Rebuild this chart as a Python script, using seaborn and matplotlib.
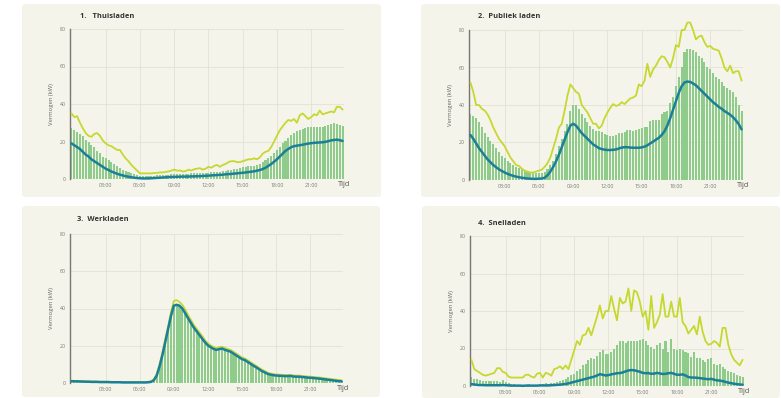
import numpy as np
import pandas as pd
import matplotlib
matplotlib.use("Agg")
import matplotlib.pyplot as plt
from matplotlib.patches import FancyBboxPatch
import seaborn as sns

# Charging power per quarter hour (kW), 96 slots from 00:00 to 23:45
titles = ["1.   Thuisladen", "2.  Publiek laden", "3.  Werkladen", "4.  Snelladen"]
hour_ticks = ["03:00", "06:00", "09:00", "12:00", "15:00", "18:00", "21:00"]

thuis_bar = [
    27, 26, 25, 24,  23, 21, 20, 18,  17, 15, 14, 12,  11, 10, 9, 8,
    7, 6, 5, 4.5,  4, 3, 2.5, 2,  1.5, 1.5, 1.5, 1.5,  1.5, 1.8, 2, 2,
    2, 2.2, 2.4, 2.5,  2.5, 2.6, 2.7, 2.8,  2.8, 2.9, 3, 3,  3, 3.1, 3.2, 3.3,
    3.4, 3.5, 3.6, 3.8,  4, 4.2, 4.5, 4.8,  5, 5.3, 5.6, 6,  6.3, 6.5, 6.8, 7,
    7.2, 7.5, 8, 9,  10, 11, 12.5, 14,  15.5, 17, 19, 20.5,  22, 23.5, 24.5, 25.5,
    26, 26.5, 27, 27.5,  28, 28, 28, 27.5,  28, 28.5, 29, 29.5,  30, 29.5, 29, 28.5,
]
thuis_mean = [
    19, 18, 17, 16,  14.5, 13, 12, 10.5,  9.5, 8.5, 7.5, 6.5,  5.5, 4.8, 4, 3.4,
    2.8, 2.3, 1.9, 1.5,  1.2, 0.9, 0.7, 0.5,  0.4, 0.3, 0.3, 0.3,  0.4, 0.5, 0.6, 0.7,
    0.8, 0.9, 1.0, 1.1,  1.1, 1.2, 1.2, 1.3,  1.3, 1.3, 1.4, 1.4,  1.5, 1.5, 1.6, 1.7,
    1.8, 1.9, 2.0, 2.1,  2.2, 2.3, 2.5, 2.6,  2.7, 2.9, 3.0, 3.2,  3.3, 3.5, 3.7, 3.9,
    4.1, 4.4, 4.8, 5.3,  6, 7, 8, 9.2,  10.5, 12, 13.5, 15,  16, 17, 17.5, 17.8,
    18, 18.3, 18.6, 18.9,  19.1, 19.3, 19.4, 19.5,  19.6, 19.8, 20.2, 20.6,  20.8, 21, 20.7, 20.3,
]
thuis_max = [
    35, 33, 33.5, 30,  27, 24.5, 23, 22.5,  24, 24.5, 23, 20.5,  19, 18, 17.5, 16.5,
    15.5, 15.5, 13, 11,  9.5, 7.5, 6, 4.5,  3, 3, 3, 3,  3, 3.2, 3.3, 3.5,
    3.5, 3.8, 4, 4.5,  5, 4.5, 4.5, 4,  4.2, 5, 4.5, 5.2,  5.5, 5.8, 5, 5.5,
    6.5, 6, 7, 7.5,  6.5, 7.5, 8, 9,  9.5, 9.5, 9, 9,  9.5, 10, 10.5, 10.5,
    11, 10.5, 11.5, 13.5,  14.5, 15, 17, 20,  23, 26, 28, 30,  31.5, 31, 32, 30,
    34, 35, 33.5, 32,  33, 34.5, 34, 36.5,  34.5, 35, 35.5, 36,  35.5, 38.5, 38.5, 37,
]

publiek_bar = [
    35, 34, 33, 31,  28, 25, 23, 21,  19, 17, 15, 13,  11.5, 10, 9, 8,
    7, 6.5, 6, 5,  4.5, 4, 3.5, 3.5,  3.5, 3.5, 4, 6,  8, 10, 14, 18,
    22, 26, 30, 37,  40, 40, 38, 35,  33, 31, 29, 27,  26, 26, 25.5, 24.5,
    24, 23.5, 23.5, 24,  25, 25, 25.5, 26.5,  26.5, 26, 26.5, 27,  27.5, 28, 28, 31.5,
    32, 32, 32, 35,  36, 37, 41, 44,  50, 55, 60, 68,  70, 70, 69.5, 68,
    66, 65, 63, 60,  59, 57, 55, 54,  52, 50, 49, 48,  47, 44, 40, 37,
]
publiek_mean = [
    24, 22, 19.5, 17,  15, 13, 11, 9.5,  8, 6.8, 5.7, 4.8,  4, 3.3, 2.7, 2.2,
    1.8, 1.5, 1.2, 1.0,  0.8, 0.7, 0.6, 0.6,  0.7, 0.8, 1.2, 2.5,  4.5, 7, 10, 13.5,
    17.5, 21.5, 25.5, 29,  30, 29, 27, 25,  23.5, 22, 20.5, 19,  18, 17, 16.5, 16.2,
    16, 16, 16.1, 16.3,  16.8, 17.3, 17.5, 17.5,  17.3, 17.2, 17.2, 17.2,  17.4, 17.8, 18.5, 19.5,
    20.5, 21.5, 22.5, 24,  26, 29, 33, 37.5,  42, 46.5, 50, 52,  52.5, 52.3, 51.5, 50.5,
    49, 47.5, 46, 44.5,  43, 41.5, 40.3, 39,  38, 36.8, 35.8, 34.8,  33.5, 31.8, 29.8, 27,
]
publiek_max = [
    52, 47, 40, 40,  38, 37, 35, 32,  28, 25, 22, 20,  18, 15, 12, 10,
    8, 7.5, 6, 5,  4.5, 4, 4, 4.5,  5, 5.5, 7, 9,  12, 17, 22, 28,
    30, 37, 45, 51,  49, 47, 46, 40,  38, 36, 33, 30,  30, 27.5, 29, 33,
    36, 38.5, 40.5, 39.5,  40, 41.5, 40.5, 42,  43.5, 44, 45, 51,  50, 53, 62, 55,
    59, 61, 64, 66,  65.5, 63, 60, 65,  72, 71, 80, 80,  84, 84, 80, 75,
    76.5, 77, 73.5, 71,  71.5, 70, 69.5, 69,  65, 60, 58, 61,  57, 58, 58, 53,
]

werk_bar = [
    1.0, 0.9, 0.9, 0.8,  0.8, 0.7, 0.7, 0.6,  0.6, 0.6, 0.5, 0.5,  0.5, 0.5, 0.4, 0.4,
    0.4, 0.4, 0.3, 0.3,  0.3, 0.3, 0.3, 0.3,  0.3, 0.3, 0.3, 0.4,  0.6, 1.5, 4, 9,
    15, 22, 29, 36,  42, 42.5, 42, 40.5,  38, 35, 32.5, 30,  28, 26, 24, 22,
    20.5, 19.5, 18.5, 18,  18.5, 18.8, 18, 17.5,  17, 16, 15, 14,  13, 12.5, 11.5, 10.5,
    9.5, 8.5, 7.5, 6.5,  5.8, 5, 4.6, 4.3,  4.1, 4, 3.9, 3.8,  3.8, 3.9, 3.6, 3.5,
    3.5, 3.3, 3.2, 3.0,  2.9, 2.8, 2.6, 2.5,  2.3, 2.1, 1.9, 1.7,  1.5, 1.3, 1.1, 1.0,
]
werk_mean = [
    1.0, 0.9, 0.9, 0.8,  0.8, 0.7, 0.7, 0.6,  0.6, 0.6, 0.5, 0.5,  0.5, 0.5, 0.4, 0.4,
    0.4, 0.4, 0.3, 0.3,  0.3, 0.3, 0.3, 0.3,  0.3, 0.3, 0.3, 0.4,  0.6, 1.5, 4, 9,
    15, 22, 29, 36,  41.5, 42, 41.5, 40,  37.5, 34.8, 32.3, 29.8,  27.8, 25.8, 23.8, 21.8,
    20.2, 19.2, 18.3, 17.8,  18.2, 18.5, 17.8, 17.3,  16.8, 15.8, 14.8, 13.8,  12.8, 12.3, 11.3, 10.3,
    9.3, 8.4, 7.4, 6.4,  5.7, 4.9, 4.5, 4.2,  4.0, 3.9, 3.8, 3.7,  3.7, 3.8, 3.5, 3.4,
    3.4, 3.2, 3.1, 2.9,  2.8, 2.7, 2.5, 2.4,  2.2, 2.0, 1.8, 1.6,  1.4, 1.2, 1.0, 0.9,
]
werk_max = [
    1.2, 1.1, 1.1, 1.0,  1.0, 0.9, 0.9, 0.8,  0.8, 0.8, 0.7, 0.7,  0.7, 0.7, 0.6, 0.6,
    0.6, 0.6, 0.5, 0.5,  0.5, 0.5, 0.5, 0.5,  0.5, 0.5, 0.5, 0.6,  0.9, 2, 4.8, 10,
    16.5, 23.5, 30.5, 38,  44, 44.5, 43.5, 42,  39.5, 36.5, 34, 31.3,  29.2, 27.2, 25.2, 23,
    21.3, 20.2, 19.3, 18.8,  19.2, 19.5, 18.8, 18.2,  17.8, 16.8, 15.8, 14.7,  13.7, 13.2, 12.2, 11.2,
    10.2, 9.2, 8.2, 7.2,  6.4, 5.6, 5.1, 4.8,  4.6, 4.5, 4.4, 4.3,  4.3, 4.4, 4.1, 4.0,
    4.0, 3.8, 3.7, 3.5,  3.4, 3.3, 3.1, 3.0,  2.8, 2.6, 2.4, 2.2,  2.0, 1.8, 1.6, 1.5,
]

snel_bar = [
    5, 4, 3.5, 3,  2.5, 2.5, 2.5, 2.5,  2.5, 2.5, 2, 3,  2, 1.5, 1, 1,
    0.8, 0.8, 0.5, 0.8,  1, 0.8, 0.8, 0.8,  1.2, 1, 1.5, 1.2,  1.5, 1.8, 2, 2.5,
    3, 4, 5, 6,  6.5, 8, 9, 11,  12, 14, 15, 14.5,  16, 18, 19, 17,
    17, 18, 20, 22,  24, 24, 23, 24,  24, 24, 24, 24.5,  25, 24, 22, 21,
    20, 22, 23, 20,  24, 18, 25, 20,  19, 20, 19, 18,  17.5, 15.5, 18, 15,
    15, 14, 13, 14.5,  15, 12, 11, 12,  10, 9, 8, 7.5,  7, 6, 5.5, 5,
]
snel_mean = [
    1, 0.8, 0.6, 0.5,  0.5, 0.4, 0.4, 0.4,  0.4, 0.4, 0.4, 0.5,  0.4, 0.3, 0.2, 0.2,
    0.2, 0.2, 0.1, 0.2,  0.2, 0.2, 0.2, 0.2,  0.3, 0.3, 0.3, 0.3,  0.4, 0.5, 0.6, 0.7,
    0.9, 1.1, 1.4, 1.8,  2.2, 2.6, 3, 3.4,  3.8, 4.2, 4.6, 5,  5.6, 6.3, 6.0, 5.6,
    5.8, 6.2, 6.5, 6.8,  6.9, 7.2, 7.8, 8.3,  8.5, 8.4, 8.0, 7.6,  7.0, 6.8, 6.9, 6.5,
    6.6, 7.0, 6.7, 6.4,  6.5, 6.8, 7.0, 6.5,  6.0, 6.0, 6.2, 5.6,  4.8, 4.5, 4.5, 4.4,
    4.2, 4.0, 3.8, 3.6,  3.8, 3.4, 3.0, 2.9,  2.6, 2.2, 1.8, 1.5,  1.2, 1.0, 0.8, 0.7,
]
snel_max = [
    14, 9, 8, 7,  6, 5.5, 6, 6.5,  7, 9.5, 9.5, 7.5,  7, 5, 4.5, 4.5,
    4.5, 4.5, 4.5, 6,  6, 5, 4.5, 6.5,  7, 4.5, 7, 6.5,  5.5, 9, 9.5, 10.5,
    9, 11, 9, 14,  19, 24, 22, 27,  27.5, 31, 27, 32,  37, 43, 36, 40,
    40, 48, 41, 35,  47, 44, 45, 52,  40, 51, 50, 45,  37, 40, 30, 48,
    31, 34, 38, 49,  37, 37, 45, 37,  37, 47, 34, 32,  28, 30, 32, 27.5,
    37, 29, 24, 22,  22.5, 24, 23, 21,  31, 31, 22, 17,  14, 12.5, 11, 14,
]

panels = [
    (thuis_bar, thuis_mean, thuis_max),
    (publiek_bar, publiek_mean, publiek_max),
    (werk_bar, werk_mean, werk_max),
    (snel_bar, snel_mean, snel_max),
]

BAR = "#8fcb8b"
MAXC = "#c6d830"
MEANC = "#1b7f98"
PANEL_BG = "#f5f4ea"
GRID = "#e2e1d6"

sns.set_theme(style="white")
plt.rcParams["font.family"] = ["Open Sans", "DejaVu Sans"]

W, H = 781, 398
fig = plt.figure(figsize=(W / 100, H / 100), dpi=100)
fig.patch.set_facecolor("white")

# panel boxes (px: left, top, right, bottom) and plot areas
boxes = [(22, 4, 381, 197), (421, 4, 780, 197), (22, 206, 380, 397), (422, 206, 780, 398)]
areas = [(70, 29, 344, 179), (469, 30, 743, 180), (70, 234, 343, 383), (470, 236, 744, 386)]
title_pos = [(80, 16), (478, 16), (77, 220), (478, 223)]

for (l, t, r, b) in boxes:
    fig.patches.append(FancyBboxPatch(
        (l / W, 1 - b / H), (r - l) / W, (b - t) / H,
        boxstyle="round,pad=0,rounding_size=0.006", transform=fig.transFigure,
        facecolor=PANEL_BG, edgecolor="none", zorder=-10))

idx = np.arange(96)
for k, ((bars, mean, mx), (l, t, r, b)) in enumerate(zip(panels, areas)):
    ax = fig.add_axes([l / W, 1 - b / H, (r - l) / W, (b - t) / H], zorder=1)
    ax.set_facecolor("none")
    df = pd.DataFrame({"slot": idx, "bar": bars, "mean": mean, "max": mx})
    sns.barplot(data=df, x="slot", y="bar", native_scale=True, color=BAR,
                saturation=1, width=0.72, errorbar=None, linewidth=0,
                ax=ax, zorder=2)
    sns.lineplot(data=df, x="slot", y="max", color=MAXC, linewidth=1.3,
                 ax=ax, zorder=3, clip_on=False)
    sns.lineplot(data=df, x="slot", y="mean", color=MEANC, linewidth=1.8,
                 ax=ax, zorder=4, clip_on=False)

    ax.set_xlim(-0.5, 95.5)
    ax.set_ylim(0, 80)
    ax.set_xticks([12, 24, 36, 48, 60, 72, 84])
    ax.set_xticklabels(hour_ticks)
    ax.set_yticks([0, 20, 40, 60, 80])
    ax.tick_params(axis="both", length=0, labelsize=3.8, labelcolor="#777777", pad=3)
    ax.grid(True, color=GRID, linewidth=0.6, zorder=0)
    ax.set_axisbelow(True)
    for s in ["top", "right", "bottom"]:
        ax.spines[s].set_visible(False)
    ax.spines["left"].set_color("#777777")
    ax.spines["left"].set_linewidth(1.0)
    ax.set_xlabel("")
    ax.set_ylabel("Vermogen (kW)", fontsize=4.2, color="#666666", labelpad=4)
    ax.text(1.0, -0.035, "Tijd", transform=ax.transAxes, ha="center", va="center",
            fontsize=5.4, color="#555555")

    tx, ty = title_pos[k]
    fig.text(tx / W, 1 - ty / H, titles[k], ha="left", va="center",
             fontsize=5.4, fontweight="bold", color="#333333")

fig.savefig("out.png", dpi=100, facecolor="white")
